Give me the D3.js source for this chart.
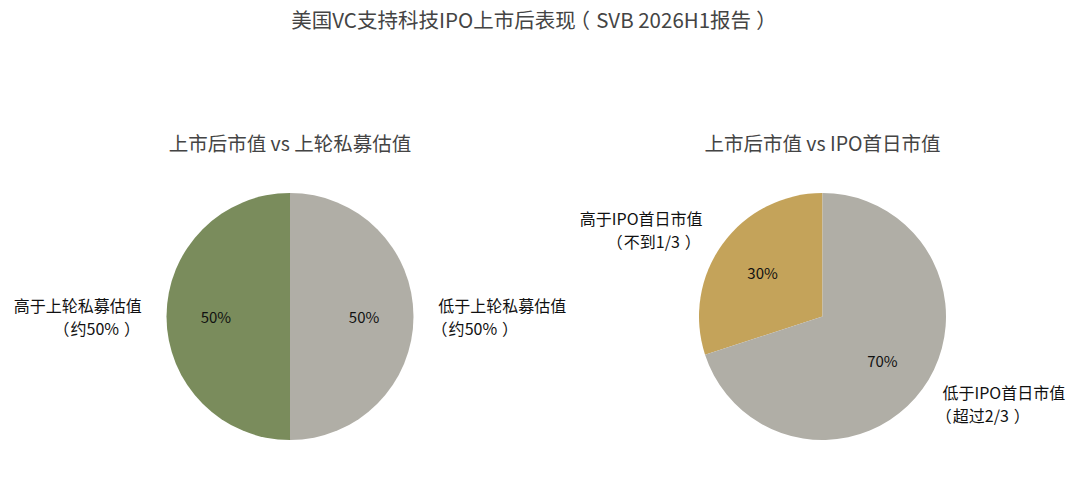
<!DOCTYPE html>
<html><head><meta charset="utf-8">
<script src="https://cdn.jsdelivr.net/npm/d3@7/dist/d3.min.js"></script>
<style>body{margin:0;background:#fff}svg{display:block}text{font-family:"Noto Sans CJK SC","Noto Sans",sans-serif}</style>
</head><body>
<script>
const title = "美国VC支持科技IPO上市后表现（SVB 2026H1报告）";
const pieTitles = ["上市后市值 vs 上轮私募估值", "上市后市值 vs IPO首日市值"];
const leftLabels = [["高于上轮私募估值","（约50%）"], ["低于上轮私募估值","（约50%）"]];
const leftValues = [50, 50];
const leftColors = ["#7a8c5c", "#b0aea6"];
const rightLabels = [["高于IPO首日市值","（不到1/3）"], ["低于IPO首日市值","（超过2/3）"]];
const rightValues = [30, 70];
const rightColors = ["#c4a35a", "#b0aea6"];

const W = 1080, H = 482;
const svg = d3.select("body").append("svg").attr("width", W).attr("height", H);

// per-character dx list so full-width parentheses sit like in the reference
function parenDx(s, fs, openShift, openAfter, closeShift) {
  const chars = Array.from(s);
  const dx = chars.map(() => 0);
  chars.forEach((c, i) => {
    if (c === "（") { dx[i] += openShift * fs; if (i + 1 < chars.length) dx[i + 1] += openAfter * fs; }
    if (c === "）") { dx[i] += closeShift * fs; }
  });
  return dx.map(v => +v.toFixed(2)).join(" ");
}

const tfs = 20.5;
svg.append("text").attr("x", 534).attr("y", 19).attr("text-anchor", "middle")
  .attr("dominant-baseline", "central")
  .attr("dx", parenDx(title, tfs, -0.3, 0.3, 0.25))
  .attr("font-size", tfs).attr("fill", "#444").text(title);

function drawPie(cx, cy, r, values, labels, colors, sub) {
  const g = svg.append("g").attr("transform", `translate(${cx},${cy})`);
  svg.append("text").attr("x", cx).attr("y", 142).attr("text-anchor", "middle")
    .attr("dominant-baseline", "central")
    .attr("font-size", 19.5).attr("fill", "#444").text(sub);
  // matplotlib: start at 90deg, counterclockwise
  const pie = d3.pie().sort(null).startAngle(0).endAngle(-2 * Math.PI);
  const arcs = pie(values);
  const arc = d3.arc().innerRadius(0).outerRadius(r);
  g.selectAll("path").data(arcs).join("path").attr("d", arc)
    .attr("fill", (d, i) => colors[i]);
  const total = d3.sum(values);
  arcs.forEach((d, i) => {
    const mid = (d.startAngle + d.endAngle) / 2;
    const x = Math.sin(mid), y = -Math.cos(mid);
    g.append("text").attr("x", 0.6 * r * x).attr("y", 0.6 * r * y)
      .attr("text-anchor", "middle").attr("dominant-baseline", "central")
      .attr("font-size", 15).attr("fill", "#111")
      .text(Math.round(d.value / total * 100) + "%");
    const lx = 1.2 * r * x, ly = 1.2 * r * y;
    const isEnd = x < -1e-6;
    const lh = 23.5, fs = 16;
    labels[i].forEach((s, k) => {
      const endsParen = s.endsWith("）");
      g.append("text").attr("text-anchor", isEnd ? "end" : "start")
        .attr("font-size", fs).attr("fill", "#111")
        .attr("x", lx + (isEnd && endsParen ? 0.3 * fs : 0))
        .attr("y", ly + (k - (labels[i].length - 1) / 2) * lh)
        .attr("dx", parenDx(s, fs, -0.42, 0.07, 0.3))
        .attr("dominant-baseline", "central").text(s);
    });
  });
}
drawPie(290, 316.5, 123.5, leftValues, leftLabels, leftColors, pieTitles[0]);
drawPie(822.5, 316.5, 123.5, rightValues, rightLabels, rightColors, pieTitles[1]);
</script>
</body></html>
